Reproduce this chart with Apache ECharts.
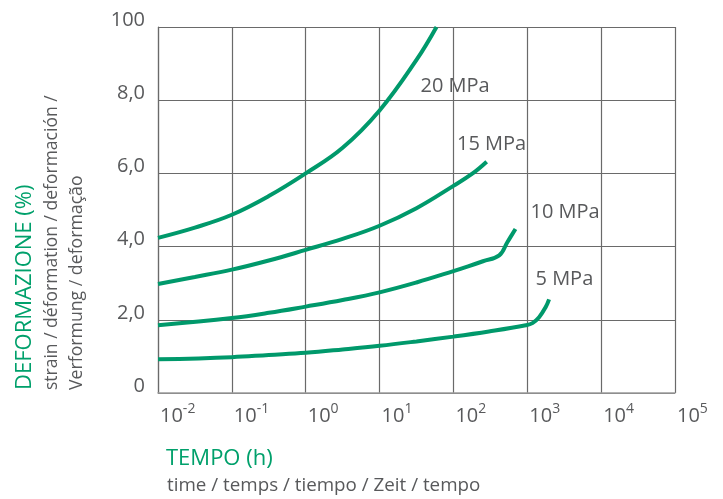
<!DOCTYPE html>
<html>
<head>
<meta charset="utf-8">
<script src="https://cdn.jsdelivr.net/npm/echarts@6/dist/echarts.min.js"></script>
<style>
html,body{margin:0;padding:0;background:#fff;}
#c{width:723px;height:499px;}
</style>
</head>
<body>
<div id="c"></div>
<script>
// Time (h) and strain (%)
const time20 = [0.01, 0.0316, 0.1, 0.316, 1, 3.16, 10, 31.6, 59];
const strain20 = [4.24, 4.52, 4.87, 5.38, 6.0, 6.70, 7.72, 9.10, 10.0];

const time15 = [0.01, 0.0316, 0.1, 0.316, 1, 3.16, 10, 31.6, 100, 182, 282];
const strain15 = [2.98, 3.17, 3.37, 3.62, 3.91, 4.21, 4.57, 5.05, 5.66, 6.0, 6.32];

const time10 = [0.01, 0.1, 0.316, 1, 3.16, 10, 31.6, 100, 158, 251, 417, 537, 692];
const strain10 = [1.85, 2.05, 2.19, 2.36, 2.54, 2.75, 3.02, 3.33, 3.46, 3.60, 3.76, 4.12, 4.48];

const time5 = [0.01, 0.1, 0.316, 1, 3.16, 10, 31.6, 100, 302, 955, 1175, 1445, 1778, 1972];
const strain5 = [0.92, 0.98, 1.04, 1.10, 1.19, 1.29, 1.41, 1.54, 1.68, 1.85, 1.91, 2.07, 2.35, 2.56];

const seriesNames = ['20 MPa', '15 MPa', '10 MPa', '5 MPa'];
const xTickLabels = ['-2', '-1', '0', '1', '2', '3', '4', '5'];
const yTickLabels = ['0', '2,0', '4,0', '6,0', '8,0', '100'];

const GREEN = '#00996b';
const GRAY = '#58595b';
const FONT = 'Open Sans';

function pairs(xs, ys) { return xs.map((x, i) => [x, ys[i]]); }

const chart = echarts.init(document.getElementById('c'), null, {renderer: 'canvas'});
const data = [pairs(time20, strain20), pairs(time15, strain15), pairs(time10, strain10), pairs(time5, strain5)];

chart.setOption({
  animation: false,
  backgroundColor: '#fff',
  grid: {left: 158, top: 27, right: 48, bottom: 106, containLabel: false},
  xAxis: {
    type: 'log', logBase: 10, min: 0.01, max: 100000,
    axisLine: {show: true, lineStyle: {color: '#9a9a9a', width: 1.5}},
    axisTick: {show: false},
    splitLine: {show: true, lineStyle: {color: '#6a6a6a', width: 1.2}},
    axisLabel: {
      align: 'left', margin: 9, padding: [0, 0, 0, 2],
      formatter: function (v) {
        const e = Math.round(Math.log10(v));
        return '{b|10}{s|' + xTickLabels[e + 2] + '}';
      },
      rich: {
        b: {fontFamily: FONT, fontSize: 20, color: GRAY, lineHeight: 24, verticalAlign: 'bottom'},
        s: {fontFamily: FONT, fontSize: 14, color: GRAY, lineHeight: 14, verticalAlign: 'top'}
      }
    }
  },
  yAxis: {
    type: 'value', min: 0, max: 10, interval: 2,
    axisLine: {show: true, lineStyle: {color: '#6a6a6a', width: 1.2}},
    axisTick: {show: false},
    splitLine: {show: true, lineStyle: {color: '#6a6a6a', width: 1.2}},
    axisLabel: {
      margin: 13, fontFamily: FONT, fontSize: 20, color: GRAY,
      verticalAlign: 'bottom', lineHeight: 14,
      formatter: function (v) { return yTickLabels[Math.round(v / 2)]; }
    }
  },
  series: data.map((d, i) => ({
    name: seriesNames[i], type: 'line', data: d, showSymbol: false,
    smooth: 0.4,
    lineStyle: {color: GREEN, width: 4}, itemStyle: {color: GREEN}
  })),
  graphic: [
    {type: 'text', x: 420.5, y: 86.2, style: {text: seriesNames[0], fontFamily: FONT, fontSize: 20, fill: GRAY, align: 'left', verticalAlign: 'middle'}},
    {type: 'text', x: 457, y: 143.9, style: {text: seriesNames[1], fontFamily: FONT, fontSize: 20, fill: GRAY, align: 'left', verticalAlign: 'middle'}},
    {type: 'text', x: 530.5, y: 212.2, style: {text: seriesNames[2], fontFamily: FONT, fontSize: 20, fill: GRAY, align: 'left', verticalAlign: 'middle'}},
    {type: 'text', x: 535.5, y: 279.5, style: {text: seriesNames[3], fontFamily: FONT, fontSize: 20, fill: GRAY, align: 'left', verticalAlign: 'middle'}},
    {type: 'text', x: 24.5, y: 390, rotation: Math.PI / 2, style: {text: 'DEFORMAZIONE (%)', fontFamily: FONT, fontSize: 22, fill: '#00a06b', align: 'left', verticalAlign: 'middle'}},
    {type: 'text', x: 52.3, y: 390, rotation: Math.PI / 2, style: {text: 'strain / déformation / deformación /', fontFamily: FONT, fontSize: 17.5, fill: GRAY, align: 'left', verticalAlign: 'middle'}},
    {type: 'text', x: 77, y: 390, rotation: Math.PI / 2, style: {text: 'Verformung / deformação', fontFamily: FONT, fontSize: 17.7, fill: GRAY, align: 'left', verticalAlign: 'middle'}},
    {type: 'text', x: 166, y: 458.8, style: {text: 'TEMPO (h)', fontFamily: FONT, fontSize: 22, fill: '#00a06b', align: 'left', verticalAlign: 'middle'}},
    {type: 'text', x: 167, y: 486, style: {text: 'time / temps / tiempo / Zeit / tempo', fontFamily: FONT, fontSize: 18.8, fill: GRAY, align: 'left', verticalAlign: 'middle'}}
  ]
});
</script>
</body>
</html>
